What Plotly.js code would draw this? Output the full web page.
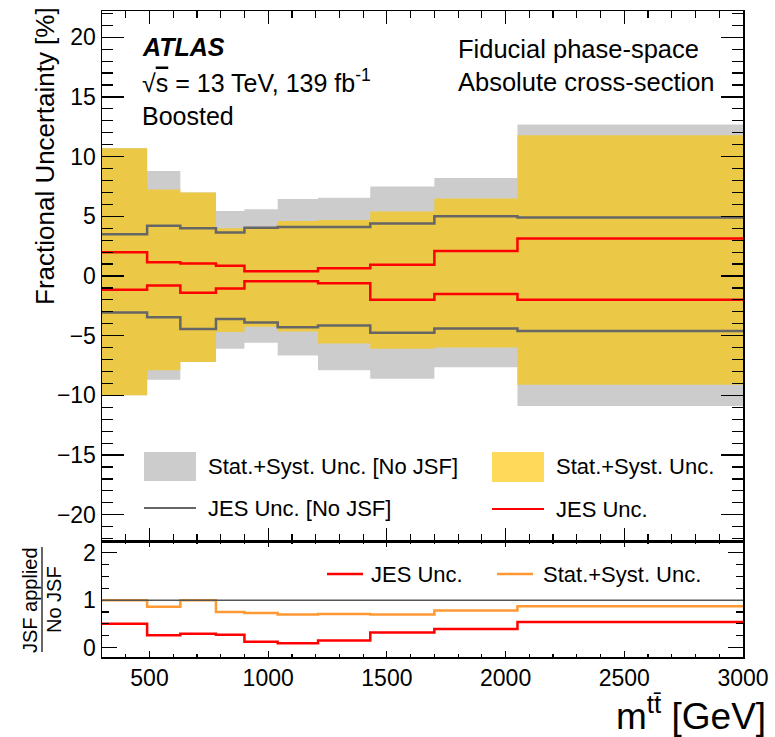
<!DOCTYPE html>
<html>
<head>
<meta charset="utf-8">
<script src="https://cdn.plot.ly/plotly-3.0.1.min.js"></script>
<style>
  html, body { margin: 0; padding: 0; background: #ffffff; }
  #plot { width: 775px; height: 737px; }
</style>
</head>
<body>
<div id="plot"></div>
<script>
// m(tt) bin edges [GeV]
const binEdges = [300, 490, 630, 780, 900, 1040, 1210, 1430, 1700, 2050, 3000];

// Fractional uncertainties [%] per bin
const statSystNoJsfUp   = [10.7, 8.8, 7.0, 5.45, 5.6, 6.45, 6.55, 7.5, 8.2, 12.7];
const statSystNoJsfDown = [-10.0, -8.7, -7.2, -6.1, -5.6, -6.65, -7.9, -8.6, -7.65, -10.9];
const statSystUp        = [10.7, 7.25, 7.0, 4.0, 4.0, 4.6, 4.7, 5.4, 6.5, 11.8];
const statSystDown      = [-10.0, -7.9, -7.2, -4.7, -4.25, -4.65, -5.65, -6.1, -6.0, -9.1];
const jesNoJsfUp        = [3.5, 4.2, 4.0, 3.65, 4.05, 4.1, 4.1, 4.4, 5.0, 4.9];
const jesNoJsfDown      = [-3.05, -3.45, -4.45, -3.6, -3.9, -4.3, -4.15, -4.75, -4.4, -4.6];
const jesUp             = [2.0, 1.15, 1.05, 0.85, 0.4, 0.4, 0.65, 0.95, 2.1, 3.15];
const jesDown           = [-1.15, -0.8, -1.4, -1.05, -0.45, -0.45, -0.6, -2.0, -1.5, -2.0];

// Ratio JSF applied / No JSF
const ratioJes      = [0.50, 0.26, 0.29, 0.27, 0.12, 0.09, 0.15, 0.32, 0.39, 0.54];
const ratioStatSyst = [1.0, 0.86, 1.0, 0.75, 0.73, 0.70, 0.71, 0.70, 0.78, 0.87];

// Tick values
const xTicks = [500, 1000, 1500, 2000, 2500, 3000];
const yTicksTop = [-20, -15, -10, -5, 0, 5, 10, 15, 20];
const yTicksRatio = [0, 1, 2];

// Histogram-style step: repeat last bin value at the final edge
function steps(vals) { return vals.concat([vals[vals.length - 1]]); }

const FONT = 'Liberation Sans, Arial, Helvetica, sans-serif';
const GRAY_BAND = '#cccccc';
const YELLOW_BAND = '#ebc946';
const YELLOW_KEY = '#ffd95a';
const GRAY_LINE = '#666666';
const RED = '#ff0000';
const ORANGE = '#ff9933';

// Pixel -> paper helpers for decorations (plot area 102..743 x 11..657)
const W0 = 102, W1 = 743, H0 = 11, H1 = 657;
const px = x => (x - W0) / (W1 - W0);
const py = y => (H1 - y) / (H1 - H0);

function band(up, down, color) {
  return [
    { x: binEdges, y: steps(up), type: 'scatter', mode: 'lines',
      line: { shape: 'hv', width: 0, color: color }, hoverinfo: 'skip',
      xaxis: 'x', yaxis: 'y', showlegend: false },
    { x: binEdges, y: steps(down), type: 'scatter', mode: 'lines',
      line: { shape: 'hv', width: 0, color: color }, fill: 'tonexty',
      fillcolor: color, hoverinfo: 'skip', xaxis: 'x', yaxis: 'y', showlegend: false }
  ];
}

function stepLine(vals, color, width, xa, ya) {
  return { x: binEdges, y: steps(vals), type: 'scatter', mode: 'lines',
    line: { shape: 'hv', width: width, color: color },
    xaxis: xa, yaxis: ya, showlegend: false, hoverinfo: 'skip' };
}

const traces = []
  .concat(band(statSystNoJsfUp, statSystNoJsfDown, GRAY_BAND))
  .concat(band(statSystUp, statSystDown, YELLOW_BAND))
  .concat([
    stepLine(jesNoJsfUp, GRAY_LINE, 2.5, 'x', 'y'),
    stepLine(jesNoJsfDown, GRAY_LINE, 2.5, 'x', 'y'),
    stepLine(jesUp, RED, 2.5, 'x', 'y'),
    stepLine(jesDown, RED, 2.5, 'x', 'y'),
    stepLine(ratioStatSyst, ORANGE, 2.5, 'x2', 'y2'),
    stepLine(ratioJes, RED, 2.5, 'x2', 'y2')
  ]);

const split = py(541);

const axisCommon = {
  showline: true, linecolor: '#000000', linewidth: 1.5, mirror: 'ticks',
  ticks: 'inside', tickcolor: '#000000', tickwidth: 1.2,
  showgrid: false, zeroline: false,
  tickfont: { family: FONT, size: 23, color: '#000000' }
};

const layout = {
  width: 775, height: 737,
  margin: { l: W0, r: 775 - W1, t: H0, b: 737 - H1 },
  paper_bgcolor: '#ffffff', plot_bgcolor: 'rgba(0,0,0,0)',
  showlegend: false,
  xaxis: Object.assign({}, axisCommon, {
    range: [300, 3000], anchor: 'y', matches: 'x2', showticklabels: false,
    tickvals: xTicks, ticklen: 13,
    minor: { dtick: 100, tick0: 0, ticklen: 7, ticks: 'inside', tickcolor: '#000000', tickwidth: 1.2 }
  }),
  yaxis: Object.assign({}, axisCommon, {
    domain: [split, 1], range: [-22.2, 22.2], anchor: 'x',
    tickvals: yTicksTop, ticklen: 22,
    minor: { dtick: 1, tick0: 0, ticklen: 11, ticks: 'inside', tickcolor: '#000000', tickwidth: 1.2 }
  }),
  xaxis2: Object.assign({}, axisCommon, {
    range: [300, 3000], anchor: 'y2',
    tickvals: xTicks, ticklen: 6,
    minor: { dtick: 100, tick0: 0, ticklen: 3, ticks: 'inside', tickcolor: '#000000', tickwidth: 1.2 }
  }),
  yaxis2: Object.assign({}, axisCommon, {
    domain: [0, split], range: [-0.2, 2.25], anchor: 'x2',
    tickvals: yTicksRatio, ticklen: 15,
    minor: { dtick: 0.25, tick0: 0, ticklen: 7, ticks: 'inside', tickcolor: '#000000', tickwidth: 1.2 }
  }),
  shapes: [
    // unity reference in the ratio panel
    { type: 'line', xref: 'x2', yref: 'y2', x0: 300, x1: 3000, y0: 1, y1: 1,
      line: { color: '#555555', width: 1.5 } },
    // legend keys, main panel
    { type: 'rect', xref: 'paper', yref: 'paper', x0: px(144), x1: px(196), y0: py(481), y1: py(452),
      fillcolor: GRAY_BAND, line: { width: 0 } },
    { type: 'line', xref: 'paper', yref: 'paper', x0: px(144), x1: px(196), y0: py(508), y1: py(508),
      line: { color: GRAY_LINE, width: 2 } },
    { type: 'rect', xref: 'paper', yref: 'paper', x0: px(492), x1: px(544), y0: py(482), y1: py(452),
      fillcolor: YELLOW_KEY, line: { width: 0 } },
    { type: 'line', xref: 'paper', yref: 'paper', x0: px(492), x1: px(544), y0: py(509), y1: py(509),
      line: { color: RED, width: 2 } },
    // legend keys, ratio panel
    { type: 'line', xref: 'paper', yref: 'paper', x0: px(327), x1: px(363), y0: py(574), y1: py(574),
      line: { color: RED, width: 2.5 } },
    { type: 'line', xref: 'paper', yref: 'paper', x0: px(497), x1: px(533), y0: py(574), y1: py(574),
      line: { color: ORANGE, width: 2.5 } },
    // fraction bar of the ratio-axis title
    { type: 'line', xref: 'paper', yref: 'paper', x0: px(42), x1: px(42), y0: py(652), y1: py(547),
      line: { color: '#000000', width: 1.2 } }
  ],
  annotations: []
};

function label(text, x, y, size, opts) {
  return Object.assign({
    text: text, xref: 'paper', yref: 'paper', x: px(x), y: py(y),
    xanchor: 'left', yanchor: 'middle', showarrow: false,
    font: { family: FONT, size: size, color: '#000000' }
  }, opts || {});
}

layout.annotations.push(
  label('<b><i>ATLAS</i></b>', 140, 47, 25),
  label('√<span style="text-decoration:overline">s</span> = 13 TeV, 139 fb<sup>-1</sup>', 140, 81, 25),
  label('Boosted', 140, 116, 25),
  label('Fiducial phase-space', 456, 49, 25.5),
  label('Absolute cross-section', 456, 82, 25.5),
  label('Stat.+Syst. Unc. [No JSF]', 206, 467, 22),
  label('JES Unc. [No JSF]', 206, 508, 22),
  label('Stat.+Syst. Unc.', 554, 467, 22),
  label('JES Unc.', 554, 509, 22),
  label('JES Unc.', 369, 574, 22),
  label('Stat.+Syst. Unc.', 541, 574, 22),
  label('Fractional Uncertainty [%]', 45, 5, 26, { textangle: -90, xanchor: 'center', yanchor: 'top' }),
  label('JSF applied', 30, 600, 20, { textangle: -90, xanchor: 'center', yanchor: 'middle' }),
  label('No JSF', 54, 600, 20, { textangle: -90, xanchor: 'center', yanchor: 'middle' }),
  label('m<sup>tt̄</sup> [GeV]', 768, 713, 37, { xanchor: 'right' })
);

Plotly.newPlot('plot', traces, layout, { staticPlot: true, displayModeBar: false });
</script>
</body>
</html>
